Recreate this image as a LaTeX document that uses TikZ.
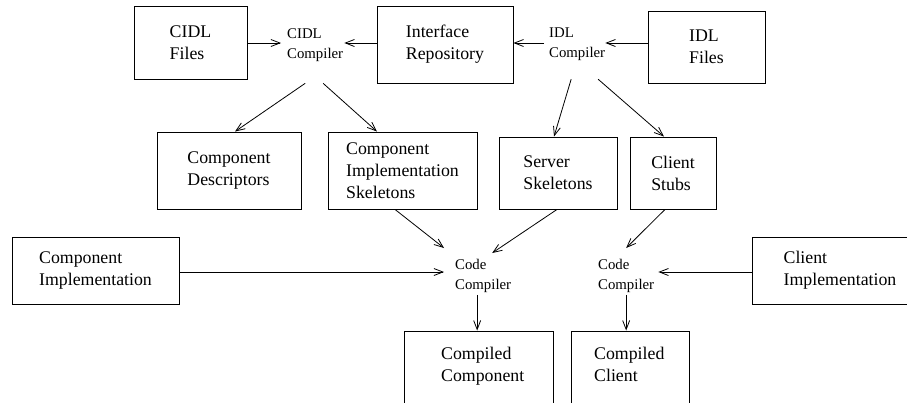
\documentclass[tikz,border=0pt]{standalone}
\usepackage{fontspec}
\setmainfont{Liberation Serif}
\usetikzlibrary{arrows.meta}
\tikzset{
  box/.style={draw, line width=0.9pt, align=left, inner sep=0pt,
    font=\fontsize{17.8}{22}\selectfont},
  btext/.style={align=left, inner sep=0pt, anchor=north west,
    font=\fontsize{17.8}{22}\selectfont},
  comp/.style={align=left, inner sep=0pt, anchor=north west,
    font=\fontsize{14.8}{20}\selectfont},
  arr/.style={line width=0.8pt, -{Straight Barb[length=9pt,width=7pt,line width=0.8pt]}}
}
\begin{document}
\begin{tikzpicture}[x=1pt,y=-1pt]
\useasboundingbox (0,0) rectangle (907,402);
% boxes
\node[box, minimum width=113pt, minimum height=73pt] (cidlf) at (190.5,42.5) {CIDL\\Files};
\node[box, minimum width=136pt, minimum height=77pt] (ir) at (445,44.5) {Interface\\Repository};
\node[box, minimum width=117pt, minimum height=72pt] (idlf) at (706.5,47) {IDL\\Files};
\node[box, minimum width=144pt, minimum height=77pt] (desc) at (229,170.5) {Component\\Descriptors};
\node[box, minimum width=149pt, minimum height=77pt] (cis) at (402.5,170.5) {Component\\Implementation\\Skeletons};
\node[box, minimum width=118pt, minimum height=72pt] (ss) at (558,173) {Server\\Skeletons};
\node[box, minimum width=86pt, minimum height=72pt] (cs) at (673,173) {Client\\Stubs};
\node[box, minimum width=167pt, minimum height=67pt] (ci) at (95.5,270.5) {Component\\Implementation};
\node[box, minimum width=176pt, minimum height=67pt] (cli) at (840,270.5) {Client\\Implementation};
\node[box, minimum width=149pt, minimum height=75pt] (ccomp) at (478.5,368.5) {};
\node[btext] (ccompt) at (441,346.5) {Compiled\\Component};
\node[box, minimum width=118pt, minimum height=75pt] (ccl) at (630,368.5) {};
\node[btext] (cclt) at (594,346.5) {Compiled\\Client};
% compilers
\node[comp] (cc) at (287,28) {CIDL\\Compiler};
\node[comp] (ic) at (549,28) {IDL\\Compiler};
\node[comp] (k1) at (455,259) {Code\\Compiler};
\node[comp] (k2) at (598,259) {Code\\Compiler};
% connectors
\draw[arr] (cidlf.east |- 0,43) -- ([xshift=-6pt]cc.west |- 0,43);
\draw[arr] (ir.west |- 0,43) -- ([xshift=1pt]cc.east |- 0,43);
\draw[arr] ([xshift=-5pt]ic.west |- 0,43) -- (ir.east |- 0,43);
\draw[arr] (idlf.west |- 0,43) -- (ic.east |- 0,43);
\draw[arr] ([xshift=-10pt,yshift=-22pt]cc.south) -- ([xshift=6pt]desc.north);
\draw[arr] ([xshift=8pt,yshift=-22pt]cc.south) -- ([xshift=-25.5pt]cis.north);
\draw[arr] ([xshift=-6pt,yshift=-18pt]ic.south) -- ([xshift=-4pt]ss.north);
\draw[arr] ([xshift=21pt,yshift=-18pt]ic.south) -- ([xshift=-9pt]cs.north);
\draw[arr] ([xshift=-7.5pt]cis.south) -- ([xshift=-11pt,yshift=11pt]k1.north west);
\draw[arr] ([xshift=-1pt]ss.south) -- ([xshift=9pt,yshift=6pt]k1.north);
\draw[arr] (ci.east |- 0,272) -- ([xshift=-11pt]k1.west |- 0,272);
\draw[arr] ([xshift=-8pt]cs.south) -- ([yshift=11pt]k2.north);
\draw[arr] (cli.west |- 0,272) -- ([xshift=4pt]k2.east |- 0,272);
\draw[arr] ([xshift=-6pt,yshift=-2pt]k1.south) -- ([xshift=-6pt]k1.south |- ccomp.north);
\draw[arr] ([yshift=-2pt]k2.south) -- (k2.south |- ccl.north);
\end{tikzpicture}
\end{document}
